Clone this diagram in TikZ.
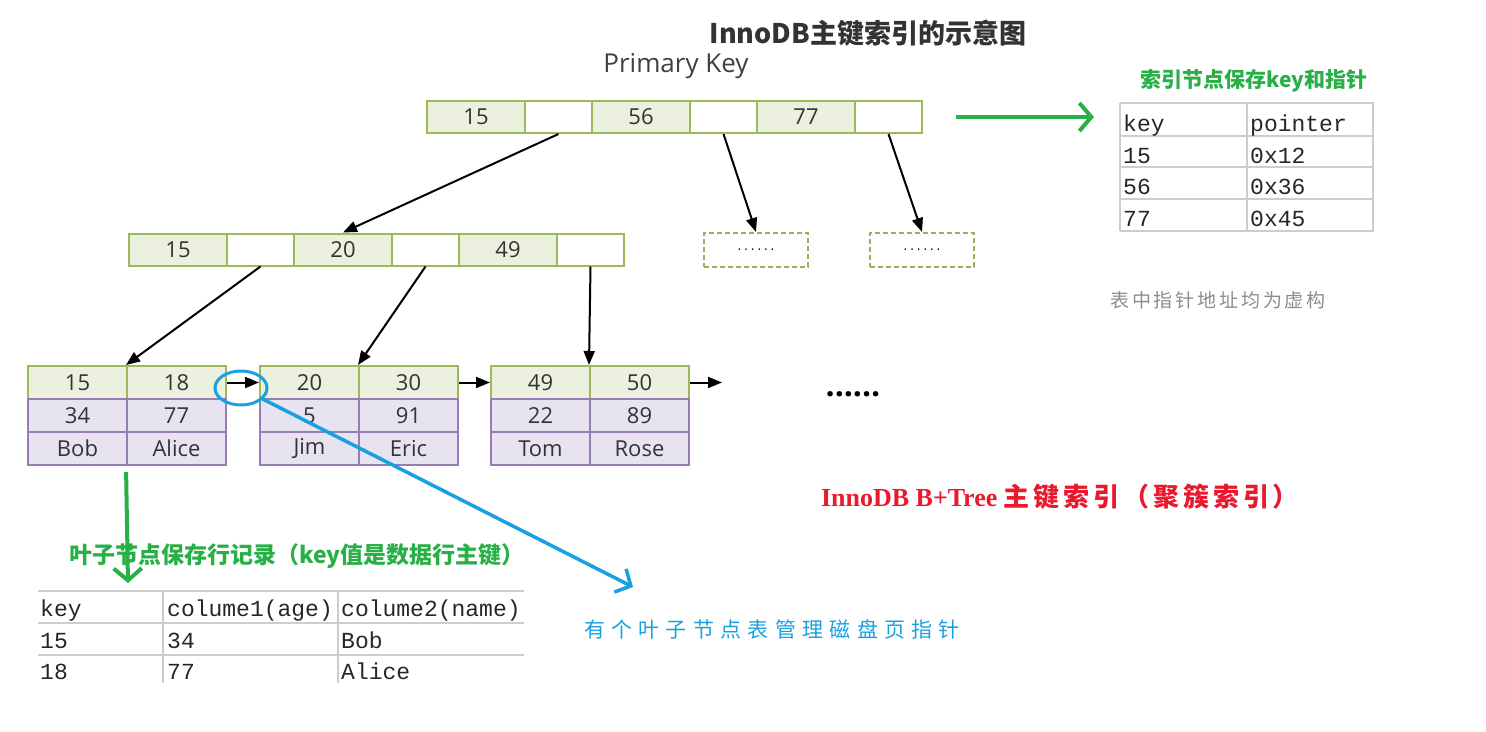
\documentclass[tikz,border=0pt]{standalone}
\usepackage{fontspec}
\setmainfont{Open Sans}
\newfontfamily\cjk{Noto Sans CJK SC}
\newfontfamily\cjkmid[LetterSpace=15]{Noto Sans CJK SC}
\newfontfamily\cjkwide[LetterSpace=30]{Noto Sans CJK SC}
\newfontfamily\mono{Liberation Mono}
\newfontfamily\timesb{Liberation Serif}
\usetikzlibrary{arrows.meta,calc,shapes.geometric}
\definecolor{keyline}{RGB}{155,187,89}
\definecolor{keyfill}{RGB}{235,241,222}
\definecolor{rowline}{RGB}{150,125,180}
\definecolor{rowfill}{RGB}{232,227,240}
\definecolor{noteg}{RGB}{40,175,70}
\definecolor{noteb}{RGB}{25,160,225}
\definecolor{noter}{RGB}{235,25,45}
\definecolor{gridc}{RGB}{205,205,205}
\tikzset{
	keycell/.style={
			draw=keyline, fill=keyfill, line width=2pt, inner sep=0pt,
			minimum width=98pt, minimum height=32pt, text=black!80,
			font=\fontsize{22}{24}\selectfont
		},
	ptrcell/.style={keycell, fill=white, minimum width=67pt},
	leafkey/.style={keycell, minimum width=99pt, minimum height=33pt},
	leafrow/.style={leafkey, draw=rowline, fill=rowfill},
	dotsbox/.style={
			draw=keyline!85!gray, dashed, dash pattern=on 5pt off 3pt, line width=2pt,
			minimum width=104pt, minimum height=34pt, font=\mono\fontsize{11}{12}\selectfont
		},
	link/.style={-{Triangle[length=14pt,width=11pt]}, line width=2pt},
	garrow/.style={draw=noteg, line width=4pt, -{Straight Barb[length=12pt,width=28pt]}},
	barrow/.style={draw=noteb, line width=3.5pt, -{Straight Barb[length=12pt,width=26pt]}},
	gridline/.style={draw=gridc, line width=1.5pt},
	celltext/.style={anchor=base west, inner sep=0pt, font=\mono\fontsize{23}{25}\selectfont, text=black!85}
}

\begin{document}
\begin{tikzpicture}[x=1pt,y=-1pt]
        \useasboundingbox (0,0) rectangle (1486,731);
        \node[font=\cjk\bfseries\fontsize{27}{30}\selectfont, text=black!80] (title) at (868,33) {InnoDB主键索引的示意图};
        \node[font=\fontsize{26}{28}\selectfont, text=black!75] (pk) at (676,66) {Primary Key};
        % root page
        \node[keycell] (r1) at (476,117) {15};
        \node[ptrcell] (r2) at (558.5,117) {};
        \node[keycell] (r3) at (641,117) {56};
        \node[ptrcell] (r4) at (723.5,117) {};
        \node[keycell] (r5) at (806,117) {77};
        \node[ptrcell] (r6) at (888.5,117) {};
        % second level
        \node[keycell] (m1) at (178,249.5) {15};
        \node[ptrcell] (m2) at (260.5,249.5) {};
        \node[keycell] (m3) at (343,249.5) {20};
        \node[ptrcell] (m4) at (425.5,249.5) {};
        \node[keycell] (m5) at (508,249.5) {49};
        \node[ptrcell] (m6) at (590.5,249.5) {};
        \node[dotsbox] (d1) at (756,250) {......};
        \node[dotsbox] (d2) at (922,250) {......};
        % leaf pages
        \node[leafkey] (l1a) at (77.5,382.5) {15};
        \node[leafkey] (l1b) at (176.5,382.5) {18};
        \node[leafrow] (l1c) at (77.5,415.5) {34};
        \node[leafrow] (l1d) at (176.5,415.5) {77};
        \node[leafrow] (l1e) at (77.5,448.5) {Bob};
        \node[leafrow] (l1f) at (176.5,448.5) {Alice};
        \node[leafkey] (l2a) at (309.5,382.5) {20};
        \node[leafkey] (l2b) at (408.5,382.5) {30};
        \node[leafrow] (l2c) at (309.5,415.5) {5};
        \node[leafrow] (l2d) at (408.5,415.5) {91};
        \node[leafrow] (l2e) at (309.5,448.5) {Jim};
        \node[leafrow] (l2f) at (408.5,448.5) {Eric};
        \node[leafkey] (l3a) at (540.5,382.5) {49};
        \node[leafkey] (l3b) at (639.5,382.5) {50};
        \node[leafrow] (l3c) at (540.5,415.5) {22};
        \node[leafrow] (l3d) at (639.5,415.5) {89};
        \node[leafrow] (l3e) at (540.5,448.5) {Tom};
        \node[leafrow] (l3f) at (639.5,448.5) {Rose};
        \node[font=\bfseries\fontsize{32}{34}\selectfont] (etc) at (853,394) {......};
        \coordinate (next) at (722,382.5);
        \draw[link] (r2.south) -- (m3.north);
        \draw[link] (r4.south) -- (d1.north);
        \draw[link] (r6.south) -- (d2.north);
        \draw[link] (m2.south) -- (l1b.north west);
        \draw[link] (m4.south) -- (l2b.north west);
        \draw[link] (m6.south) -- (l3b.north west);
        \draw[link] (l1b.east) -- (l2a.west);
        \draw[link] (l2b.east) -- (l3a.west);
        \draw[link] (l3b.east) -- (next);
        % index table
        \coordinate (kt) at (1094,117);
        \draw[garrow, shorten <=33pt] (r6.east) -- (kt);
        \node[font=\cjk\bfseries\fontsize{21}{23}\selectfont, text=noteg] (idxnote) at (1254,81) {索引节点保存key和指针};
        \draw[gridline] (1120,103) -- (1374,103) (1120,136) -- (1374,136) (1120,167) -- (1374,167)
        (1120,199) -- (1374,199) (1120,231) -- (1374,231)
        (1120,103) -- (1120,231) (1247,103) -- (1247,231) (1373,103) -- (1373,231);
        \node[celltext] (t1) at (1123,131) {key};
        \node[celltext] (t2) at (1250,131) {pointer};
        \node[celltext] (t3) at (1123,163) {15};
        \node[celltext] (t4) at (1250,163) {0x12};
        \node[celltext] (t5) at (1123,194) {56};
        \node[celltext] (t6) at (1250,194) {0x36};
        \node[celltext] (t7) at (1123,226) {77};
        \node[celltext] (t8) at (1250,226) {0x45};
        \node[font=\cjkmid\fontsize{19}{21}\selectfont, text=black!45] (fake) at (1218,300) {表中指针地址均为虚构};
        \node[font=\fontsize{26}{28}\selectfont, text=noter] (title2) at (1060,497) {{\timesb\bfseries InnoDB B+Tree }{\cjkmid\bfseries 主键索引（聚簇索引）}};
        % leaf page pointer
        \node[ellipse, draw=noteb, line width=3pt, minimum width=52pt, minimum height=34pt] (ring) at (241,388) {};
        \coordinate (pg) at (633,587);
        \draw[barrow] (ring) -- (pg);
        \node[font=\cjkwide\fontsize{21}{23}\selectfont, text=noteb] (pgnote) at (772,629) {有个叶子节点表管理磁盘页指针};
        % row table
        \coordinate (rec) at (128,583);
        \draw[garrow, shorten <=6pt] (l1f.south west) -- (rec);
        \node[font=\cjk\bfseries\fontsize{23}{25}\selectfont, text=noteg] (rownote) at (297,556) {叶子节点保存行记录（key值是数据行主键）};
        \draw[gridline] (38,591) -- (524,591) (38,623) -- (524,623) (38,655) -- (524,655)
        (163,591) -- (163,683) (338,591) -- (338,683);
        \node[celltext] (c1) at (40,616) {key};
        \node[celltext] (c2) at (167,616) {colume1(age)};
        \node[celltext] (c3) at (341,616) {colume2(name)};
        \node[celltext] (c4) at (40,648) {15};
        \node[celltext] (c5) at (167,648) {34};
        \node[celltext] (c6) at (341,648) {Bob};
        \node[celltext] (c7) at (40,679) {18};
        \node[celltext] (c8) at (167,679) {77};
        \node[celltext] (c9) at (341,679) {Alice};
\end{tikzpicture}
\end{document}
